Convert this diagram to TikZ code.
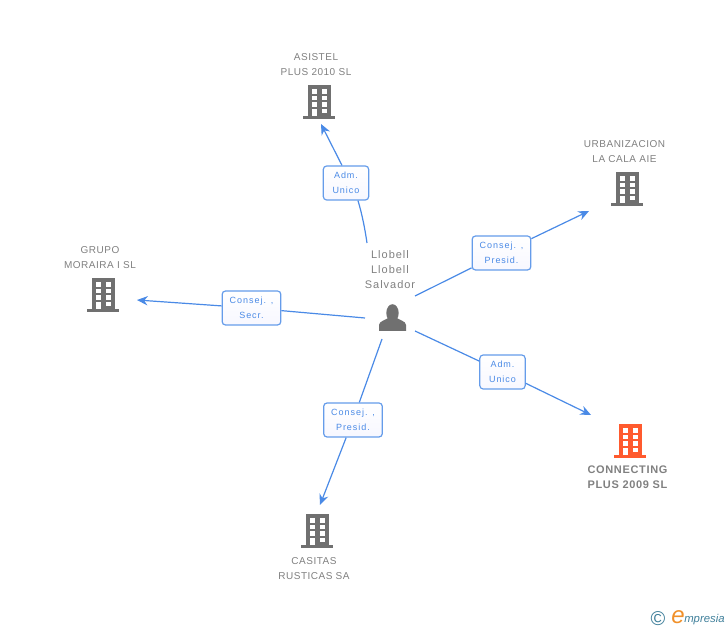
\documentclass[tikz,border=0pt]{standalone}
\usepackage{fontspec}
\setmainfont{Liberation Sans}
\usetikzlibrary{arrows.meta}
\newfontfamily\boxfont[LetterSpace=11]{Liberation Sans}
\newfontfamily\namefont[LetterSpace=5]{Liberation Sans}
\newfontfamily\mainnamefont[LetterSpace=6]{Liberation Sans}
\newfontfamily\personfont[LetterSpace=9]{Liberation Sans}
\definecolor{linkblue}{HTML}{4A8AE6}
\definecolor{icongrey}{HTML}{707070}
\definecolor{textgrey}{HTML}{808080}
\definecolor{mainred}{HTML}{FF5A2E}
\definecolor{logoteal}{HTML}{3F7F9A}
\definecolor{logoorange}{HTML}{F0902A}
\tikzset{
	link/.style={linkblue,line width=0.9pt},
	linkend/.style={link,-{Stealth[length=8pt,width=7pt]}},
	rolebox/.style={draw=linkblue!85,line width=0.9pt,rounded corners=2.5pt,top color=white,bottom color=blue!3,
		text=linkblue,align=center,inner sep=0pt,minimum height=25.5pt,
		execute at begin node=\vspace*{1.5pt},
		font=\fontsize{6.75pt}{11.25pt}\boxfont},
	firm/.style={text=textgrey,align=center,inner sep=0pt,font=\fontsize{7.5pt}{11.25pt}\namefont},
	mainfirm/.style={text=textgrey,align=center,inner sep=0pt,font=\fontsize{8.25pt}{11.25pt}\bfseries\mainnamefont},
	building/.pic={
		\fill[pic actions] (-11.5,-17) rectangle (11.5,15);
		\fill[pic actions] (-16,14) rectangle (16,17);
		\foreach \wy in {-13,-6.4,0.2}{
			\fill[white] (-7.5,\wy) rectangle (-2.4,\wy+4.6);
			\fill[white] (2.5,\wy) rectangle (7.6,\wy+4.6);
		}
		\fill[white] (-7.5,6.8) rectangle (-2.4,14);
		\fill[white] (2.5,6.8) rectangle (7.6,11.4);
	},
}
\begin{document}
\begin{tikzpicture}[x=0.75pt,y=-0.75pt]
	\useasboundingbox (0,0) rectangle (728,630);

	% the person in the middle
	\fill[icongrey] (392.5,313) ellipse (6.2 and 8.8);
	\fill[icongrey] (379,331) -- (379,325) .. controls (379,321) and (386,320) .. (389,317.5) -- (396,317.5) .. controls (399,320) and (406,321) .. (406,325) -- (406,331) -- cycle;
	\node[text=textgrey,align=center,inner sep=0pt,font=\fontsize{8.25pt}{11.25pt}\personfont] (person) at (390,269.5) {Llobell\\Llobell\\Salvador};

	% the buildings and their names
	\pic[fill=icongrey] (asistel) at (319,102) {building};
	\node[firm] (asistelName) at (316,65) {ASISTEL\\PLUS 2010 SL};
	\pic[fill=icongrey] (urbanizacion) at (627,189) {building};
	\node[firm] (urbanizacionName) at (624.5,151.5) {URBANIZACION\\LA CALA AIE};
	\pic[fill=icongrey] (grupo) at (103,295) {building};
	\node[firm] (grupoName) at (100,257.5) {GRUPO\\MORAIRA I SL};
	\pic[fill=icongrey] (casitas) at (317,531) {building};
	\node[firm] (casitasName) at (314,568.5) {CASITAS\\RUSTICAS SA};
	\pic[fill=mainred] (connecting) at (630,441) {building};
	\node[mainfirm] (connectingName) at (627.5,477.5) {CONNECTING\\PLUS 2009 SL};

	% free ends of the connectors
	\coordinate (startA) at (367,243);
	\coordinate (endA) at (321,124);
	\coordinate (startB) at (415,296);
	\coordinate (endB) at (589,211);
	\coordinate (startC) at (415,331);
	\coordinate (endC) at (591,415);
	\coordinate (startD) at (382,339);
	\coordinate (endD) at (320,505);
	\coordinate (startE) at (365,318);
	\coordinate (endE) at (137,300);

	% the role boxes
	\node[rolebox,minimum width=34pt] (roleA) at (346,183) {Adm.\\Unico};
	\node[rolebox,minimum width=44pt] (roleB) at (501.5,253) {Consej. ,\\Presid.};
	\node[rolebox,minimum width=34pt] (roleC) at (502.5,372) {Adm.\\Unico};
	\node[rolebox,minimum width=44pt] (roleD) at (353,420) {Consej. ,\\Presid.};
	\node[rolebox,minimum width=44pt] (roleE) at (251.5,308) {Consej. ,\\Secr.};

	\draw[link] (startA) .. controls (365,229) and (362,214) .. ([xshift=9pt]roleA.south);
	\draw[linkend] ([xshift=-3pt]roleA.north) -- (endA);
	\draw[link] (startB) -- (roleB);
	\draw[linkend] (roleB) -- (endB);
	\draw[link] (startC) -- (roleC);
	\draw[linkend] (roleC) -- (endC);
	\draw[link] (startD) -- (roleD);
	\draw[linkend] (roleD) -- (endD);
	\draw[link] (startE) -- (roleE);
	\draw[linkend] (roleE) -- (endE);

	% the mark in the corner
	\node[text=logoteal,inner sep=0pt,font=\fontsize{15pt}{15pt}\selectfont] (logoC) at (658,619) {\textcopyright};
	\node[text=logoorange,inner sep=0pt,font=\fontsize{18pt}{18pt}\selectfont\itshape] (logoE) at (678,617) {e};
	\node[text=logoteal,inner sep=0pt,anchor=west,font=\fontsize{8.5pt}{10pt}\selectfont\itshape] (logoName) at (684,619.5) {mpresia};
\end{tikzpicture}
\end{document}
